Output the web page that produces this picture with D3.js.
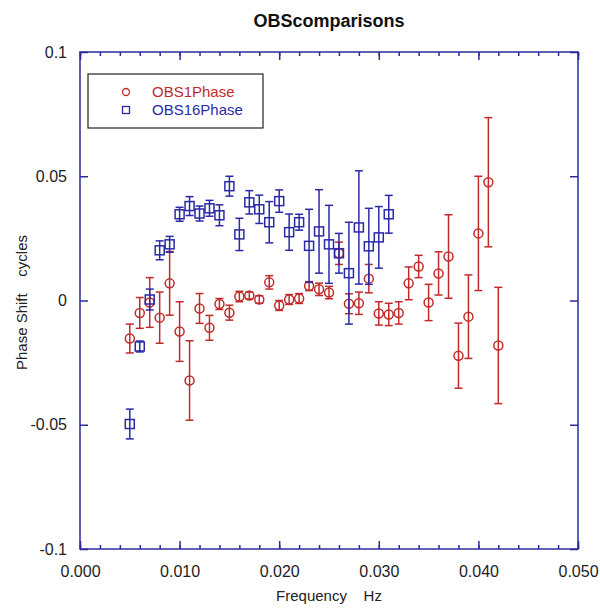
<!DOCTYPE html>
<html>
<head>
<meta charset="utf-8">
<script src="https://cdn.jsdelivr.net/npm/d3@7"></script>
<style>
  body { margin: 0; background: #fff; }
  svg { font-family: "Liberation Sans", Arial, sans-serif; }
  .frame { fill: none; stroke: #2b2b9b; stroke-width: 1.5; }
  .axis path { display: none; }
  .axis line { stroke: #2b2b9b; stroke-width: 1.5; }
  .axis text { fill: #222; font-size: 16px; }
</style>
</head>
<body>
<svg class="chart" width="600" height="609"></svg>
<script>
// frequencies in Hz
const obs1Freq = [0.005, 0.006, 0.007, 0.008, 0.009, 0.010, 0.011, 0.012, 0.013, 0.014,
                  0.015, 0.016, 0.017, 0.018, 0.019, 0.020, 0.021, 0.022, 0.023, 0.024,
                  0.025, 0.026, 0.027, 0.028, 0.029, 0.030, 0.031, 0.032, 0.033, 0.034,
                  0.035, 0.036, 0.037, 0.038, 0.039, 0.040, 0.041, 0.042];
const obs1Phase = [-0.0153, -0.0050, -0.0008, -0.0069, 0.0069, -0.0125, -0.0322, -0.0032, -0.0110, -0.0014,
                   -0.0049, 0.0016, 0.0020, 0.0004, 0.0073, -0.0020, 0.0004, 0.0008, 0.0058, 0.0045,
                   0.0032, 0.0190, -0.0013, -0.0011, 0.0088, -0.0052, -0.0056, -0.0050, 0.0069, 0.0137,
                   -0.0008, 0.0109, 0.0177, -0.0222, -0.0065, 0.0270, 0.0476, -0.0181];
const obs1Err = [0.0058, 0.0062, 0.0100, 0.0103, 0.0128, 0.0120, 0.0160, 0.0060, 0.0050, 0.0022,
                 0.0030, 0.0021, 0.0014, 0.0015, 0.0027, 0.0020, 0.0020, 0.0020, 0.0018, 0.0025,
                 0.0025, 0.0045, 0.0040, 0.0045, 0.0057, 0.0047, 0.0045, 0.0045, 0.0066, 0.0045,
                 0.0073, 0.0087, 0.0168, 0.0131, 0.0168, 0.0230, 0.0260, 0.0234];

const obs16Freq = [0.005, 0.006, 0.007, 0.008, 0.009, 0.010, 0.011, 0.012, 0.013, 0.014,
                   0.015, 0.016, 0.017, 0.018, 0.019, 0.020, 0.021, 0.022, 0.023, 0.024,
                   0.025, 0.026, 0.027, 0.028, 0.029, 0.030, 0.031];
const obs16Phase = [-0.0497, -0.0185, 0.0004, 0.0202, 0.0226, 0.0347, 0.0380, 0.0350, 0.0371, 0.0343,
                    0.0460, 0.0266, 0.0395, 0.0367, 0.0315, 0.0400, 0.0275, 0.0315, 0.0220, 0.0278,
                    0.0226, 0.0190, 0.0110, 0.0294, 0.0218, 0.0254, 0.0347];
const obs16Err = [0.0060, 0.0022, 0.0042, 0.0038, 0.0032, 0.0028, 0.0038, 0.0030, 0.0032, 0.0042,
                  0.0040, 0.0065, 0.0047, 0.0057, 0.0083, 0.0045, 0.0073, 0.0032, 0.0147, 0.0168,
                  0.0157, 0.0080, 0.0205, 0.0228, 0.0153, 0.0124, 0.0076];

const xTicks = [0, 0.01, 0.02, 0.03, 0.04, 0.05];
const yTicks = [-0.1, -0.05, 0, 0.05, 0.1];

const series = [
    {name: 'OBS1Phase', color: '#c22a2a', shape: 'circle', freq: obs1Freq, value: obs1Phase, error: obs1Err},
    {name: 'OBS16Phase', color: '#2a2aa8', shape: 'square', freq: obs16Freq, value: obs16Phase, error: obs16Err}
];

const svg = d3.select('svg.chart');
const marginLeft = 80, marginTop = 52, width = 498, height = 497;

const chart = svg.append('g').attr('transform', `translate(${marginLeft}, ${marginTop})`);

const xScale = d3.scaleLinear().domain([0, 0.05]).range([0, width]);
const yScale = d3.scaleLinear().domain([-0.1, 0.1]).range([height, 0]);

// minor ticks on x (every 0.002), inward
const minorX = d3.range(0, 0.0501, 0.002);
chart.append('g').attr('class', 'axis')
    .attr('transform', `translate(0, ${height})`)
    .call(d3.axisBottom(xScale).tickValues(minorX).tickSize(-4).tickFormat(''));
chart.append('g').attr('class', 'axis')
    .call(d3.axisTop(xScale).tickValues(minorX).tickSize(-4).tickFormat(''));

// major x ticks with labels
chart.append('g').attr('class', 'axis')
    .attr('transform', `translate(0, ${height})`)
    .call(d3.axisBottom(xScale).tickValues(xTicks).tickSize(-8).tickPadding(17).tickFormat(d3.format('.3f')));
chart.append('g').attr('class', 'axis')
    .call(d3.axisTop(xScale).tickValues(xTicks).tickSize(-8).tickFormat(''));

// y ticks
chart.append('g').attr('class', 'axis')
    .call(d3.axisLeft(yScale).tickValues(yTicks).tickSize(-8).tickPadding(13).tickFormat((d) => String(d)));
chart.append('g').attr('class', 'axis')
    .attr('transform', `translate(${width}, 0)`)
    .call(d3.axisRight(yScale).tickValues(yTicks).tickSize(-8).tickFormat(''));

chart.append('rect').attr('class', 'frame')
    .attr('x', 0).attr('y', 0).attr('width', width).attr('height', height);

// error bars + markers
const cap = 4;
series.forEach(function (s) {
    const pts = s.freq.map((f, i) => ({f: f, v: s.value[i], e: s.error[i]}));
    const g = chart.append('g').attr('stroke', s.color).attr('stroke-width', 1.5).attr('fill', 'none');
    const grp = g.selectAll('g').data(pts).enter().append('g');
    grp.append('line')
        .attr('x1', (d) => xScale(d.f)).attr('x2', (d) => xScale(d.f))
        .attr('y1', (d) => yScale(d.v - d.e)).attr('y2', (d) => yScale(d.v + d.e));
    grp.append('line')
        .attr('x1', (d) => xScale(d.f) - cap).attr('x2', (d) => xScale(d.f) + cap)
        .attr('y1', (d) => yScale(d.v - d.e)).attr('y2', (d) => yScale(d.v - d.e));
    grp.append('line')
        .attr('x1', (d) => xScale(d.f) - cap).attr('x2', (d) => xScale(d.f) + cap)
        .attr('y1', (d) => yScale(d.v + d.e)).attr('y2', (d) => yScale(d.v + d.e));
    if (s.shape === 'circle') {
        grp.append('circle')
            .attr('cx', (d) => xScale(d.f)).attr('cy', (d) => yScale(d.v)).attr('r', 4.5);
    } else {
        grp.append('rect')
            .attr('x', (d) => xScale(d.f) - 4.5).attr('y', (d) => yScale(d.v) - 4.5)
            .attr('width', 9).attr('height', 9);
    }
});

// legend
const legend = svg.append('g').attr('transform', 'translate(88, 74)');
legend.append('rect').attr('width', 175).attr('height', 54)
    .attr('fill', '#fff').attr('stroke', '#222').attr('stroke-width', 1.2);
series.forEach(function (s, i) {
    const ly = 18 + i * 18;
    if (s.shape === 'circle') {
        legend.append('circle').attr('cx', 38).attr('cy', ly).attr('r', 3.5)
            .attr('fill', 'none').attr('stroke', s.color).attr('stroke-width', 1.3);
    } else {
        legend.append('rect').attr('x', 34.5).attr('y', ly - 3.5).attr('width', 7).attr('height', 7)
            .attr('fill', 'none').attr('stroke', s.color).attr('stroke-width', 1.3);
    }
    legend.append('text').attr('x', 64).attr('y', ly + 5)
        .attr('fill', s.color).attr('font-size', '15px').text(s.name);
});

// title and axis labels
svg.append('text')
    .attr('x', marginLeft + width / 2).attr('y', 27)
    .attr('text-anchor', 'middle').attr('font-size', '18px').attr('font-weight', 'bold')
    .attr('fill', '#111').text('OBScomparisons');

svg.append('text')
    .attr('x', marginLeft + width / 2).attr('y', 601)
    .attr('text-anchor', 'middle').attr('font-size', '15px').attr('fill', '#222')
    .attr('xml:space', 'preserve').text('Frequency    Hz');

svg.append('text')
    .attr('transform', `translate(27, ${marginTop + height / 2 + 2}) rotate(-90)`)
    .attr('text-anchor', 'middle').attr('font-size', '15px').attr('fill', '#222')
    .attr('xml:space', 'preserve').text('Phase Shift    cycles');
</script>
</body>
</html>
